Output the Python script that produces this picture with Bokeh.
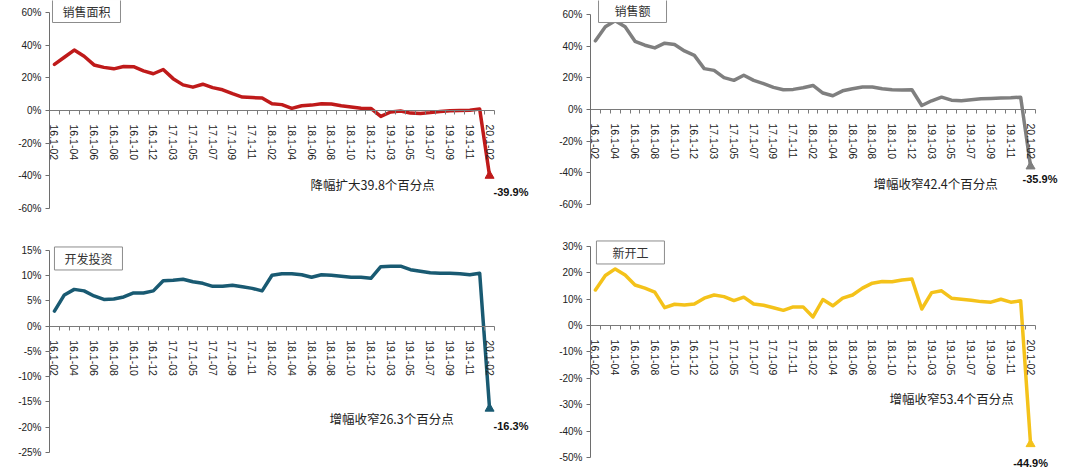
from bokeh.plotting import figure
from bokeh.layouts import column, row
from bokeh.models import Range1d, FixedTicker, Label, PrintfTickFormatter, ColumnDataSource
from bokeh.embed import file_html
from bokeh.resources import INLINE

# ---------------- data ----------------
periods = [
    "16.1-02", "16.1-03", "16.1-04", "16.1-05", "16.1-06", "16.1-07", "16.1-08", "16.1-09", "16.1-10", "16.1-11", "16.1-12",
    "17.1-02", "17.1-03", "17.1-04", "17.1-05", "17.1-06", "17.1-07", "17.1-08", "17.1-09", "17.1-10", "17.1-11", "17.1-12",
    "18.1-02", "18.1-03", "18.1-04", "18.1-05", "18.1-06", "18.1-07", "18.1-08", "18.1-09", "18.1-10", "18.1-11", "18.1-12",
    "19.1-02", "19.1-03", "19.1-04", "19.1-05", "19.1-06", "19.1-07", "19.1-08", "19.1-09", "19.1-10", "19.1-11", "19.1-12",
    "20.1-02",
]

sales_area = [28.2, 32.6, 37.0, 33.2, 27.9, 26.4, 25.5, 26.9, 26.8, 24.3, 22.5,
              25.1, 19.5, 15.7, 14.3, 16.1, 14.0, 12.7, 10.3, 8.2, 7.9, 7.7,
              4.1, 3.6, 1.3, 2.9, 3.3, 4.2, 4.0, 2.9, 2.2, 1.4, 1.3,
              -3.6, -0.9, -0.3, -1.6, -1.8, -1.3, -0.6, -0.1, 0.0, 0.2, 0.9,
              -39.9]

sales_value = [43.4, 52.2, 56.0, 52.2, 43.1, 40.6, 38.9, 41.9, 41.0, 37.0, 34.2,
               25.8, 24.7, 20.1, 18.4, 21.6, 18.4, 16.3, 14.0, 12.5, 12.7, 13.7,
               15.2, 10.4, 8.7, 11.8, 13.1, 14.2, 14.2, 13.1, 12.5, 12.3, 12.5,
               2.5, 5.5, 7.8, 5.9, 5.5, 6.1, 6.8, 7.0, 7.2, 7.4, 7.8,
               -35.9]

investment = [3.0, 6.2, 7.3, 7.0, 6.0, 5.3, 5.4, 5.8, 6.6, 6.6, 7.0,
              9.0, 9.1, 9.3, 8.8, 8.5, 7.9, 7.9, 8.1, 7.8, 7.5, 7.0,
              10.1, 10.4, 10.4, 10.2, 9.7, 10.2, 10.1, 9.9, 9.7, 9.7, 9.5,
              11.8, 11.9, 11.9, 11.2, 10.9, 10.6, 10.5, 10.5, 10.4, 10.2, 10.5,
              -16.3]

new_starts = [13.5, 19.0, 21.5, 19.2, 15.4, 14.2, 12.7, 6.8, 8.1, 7.8, 8.2,
              10.4, 11.6, 11.0, 9.5, 10.8, 8.2, 7.7, 6.8, 5.8, 7.1, 7.1,
              3.3, 9.9, 7.5, 10.4, 11.6, 14.2, 16.1, 16.7, 16.6, 17.3, 17.7,
              6.3, 12.5, 13.2, 10.4, 10.0, 9.6, 9.1, 8.9, 10.0, 8.9, 9.4,
              -44.9]

titles = ["销售面积", "销售额", "开发投资", "新开工"]
notes = ["降幅扩大39.8个百分点", "增幅收窄42.4个百分点", "增幅收窄26.3个百分点", "增幅收窄53.4个百分点"]

LATIN = "Liberation Sans"
CJK = "Noto Sans CJK SC"
TXT = "#222222"


def panel(vals, color, ticks, yr, xend, title, note, bl, title_xy, note_xy, lab):
    n = len(vals)
    xs = list(range(n))
    p = figure(width=540, height=236, output_backend="svg", toolbar_location=None,
               x_range=Range1d(-0.5, xend), y_range=Range1d(*yr),
               min_border_left=bl, min_border_right=0, min_border_top=0, min_border_bottom=0)
    p.outline_line_color = None
    p.grid.visible = False
    p.background_fill_color = "white"
    p.border_fill_color = "white"

    # y axis (line limited to the tick span)
    ya = p.yaxis[0]
    ya.bounds = (ticks[0], ticks[-1])
    ya.ticker = FixedTicker(ticks=ticks)
    ya.formatter = PrintfTickFormatter(format="%d%%")
    ya.axis_line_color = "#6e6e6e"
    ya.major_tick_line_color = "#6e6e6e"
    ya.major_tick_in = 0
    ya.major_tick_out = 4
    ya.minor_tick_line_color = None
    ya.major_label_text_font = LATIN
    ya.major_label_text_font_size = "10px"
    ya.major_label_text_color = TXT
    ya.major_label_standoff = 4

    # category axis crossing at zero
    xa = p.xaxis[0]
    xa.fixed_location = 0
    xa.bounds = (-0.5, n - 0.5)
    xa.ticker = FixedTicker(ticks=list(range(0, n, 2)), minor_ticks=[k - 0.5 for k in range(n + 1)])
    xa.major_label_overrides = {i: periods[i] for i in range(0, n, 2)}
    xa.major_label_orientation = "vertical"
    xa.axis_line_color = "#7a7a7a"
    xa.major_tick_line_color = None
    xa.minor_tick_line_color = "#7a7a7a"
    xa.minor_tick_in = 0
    xa.minor_tick_out = 4
    xa.major_label_text_font = LATIN
    xa.major_label_text_font_size = "10.5px"
    xa.major_label_text_color = TXT
    xa.major_label_standoff = 8

    src = ColumnDataSource(dict(x=xs, y=vals))
    p.line("x", "y", source=src, line_color=color, line_width=3.5, line_join="round", line_cap="round")
    last = ColumnDataSource(dict(x=[xs[-1]], y=[vals[-1]]))
    p.scatter("x", "y", source=last, marker="triangle", size=9, fill_color=color, line_color=color)

    lx, ly, la = lab
    p.add_layout(Label(x=xs[-1], y=vals[-1], text=f"{vals[-1]:.1f}%", text_font=LATIN,
                       text_font_style="bold", text_font_size="11px", text_color="#111111",
                       text_align=la, text_baseline="middle", x_offset=lx, y_offset=ly))
    p.add_layout(Label(x=note_xy[0], y=note_xy[1], text=note, text_font=CJK, text_font_size="12.5px",
                       text_color=TXT, text_align="left", text_baseline="middle"))
    padh = int(round((68 - 12 * len(title)) / 2))
    p.add_layout(Label(x=title_xy[0], y=title_xy[1], text=title, text_font=CJK, text_font_size="12px",
                       text_color="#333333", text_align="center", text_baseline="middle",
                       background_fill_color="white", border_line_color="#8c8c8c",
                       border_line_width=1, padding=(padh, 3)))
    return p


tl = panel(sales_area, "#BF1A1A", list(range(-60, 61, 20)), (-77.14, 67.35), 49.15, titles[0], notes[0],
           49, (3.24, 60.92), (25.9, -45.3), (4, -16, "left"))
tr = panel(sales_value, "#7F7F7F", list(range(-60, 61, 20)), (-80.21, 68.84), 49.05, titles[1], notes[1],
           50, (3.75, 62.21), (28.12, -46.8), (-8, -13, "left"))
bl = panel(investment, "#195A72", list(range(-25, 16, 5)), (-28.96, 17.77), 49.15, titles[2], notes[2],
           49, (3.44, 13.42), (27.81, -18.3), (4, -17, "left"))
br = panel(new_starts, "#F4C21A", list(range(-50, 31, 10)), (-55.69, 33.79), 49.05, titles[3], notes[3],
           50, (3.54, 27.73), (29.74, -27.6), (0, -19, "center"))

layout = column(row(tl, tr), row(bl, br))
open("out.html", "w").write(file_html(layout, INLINE))
